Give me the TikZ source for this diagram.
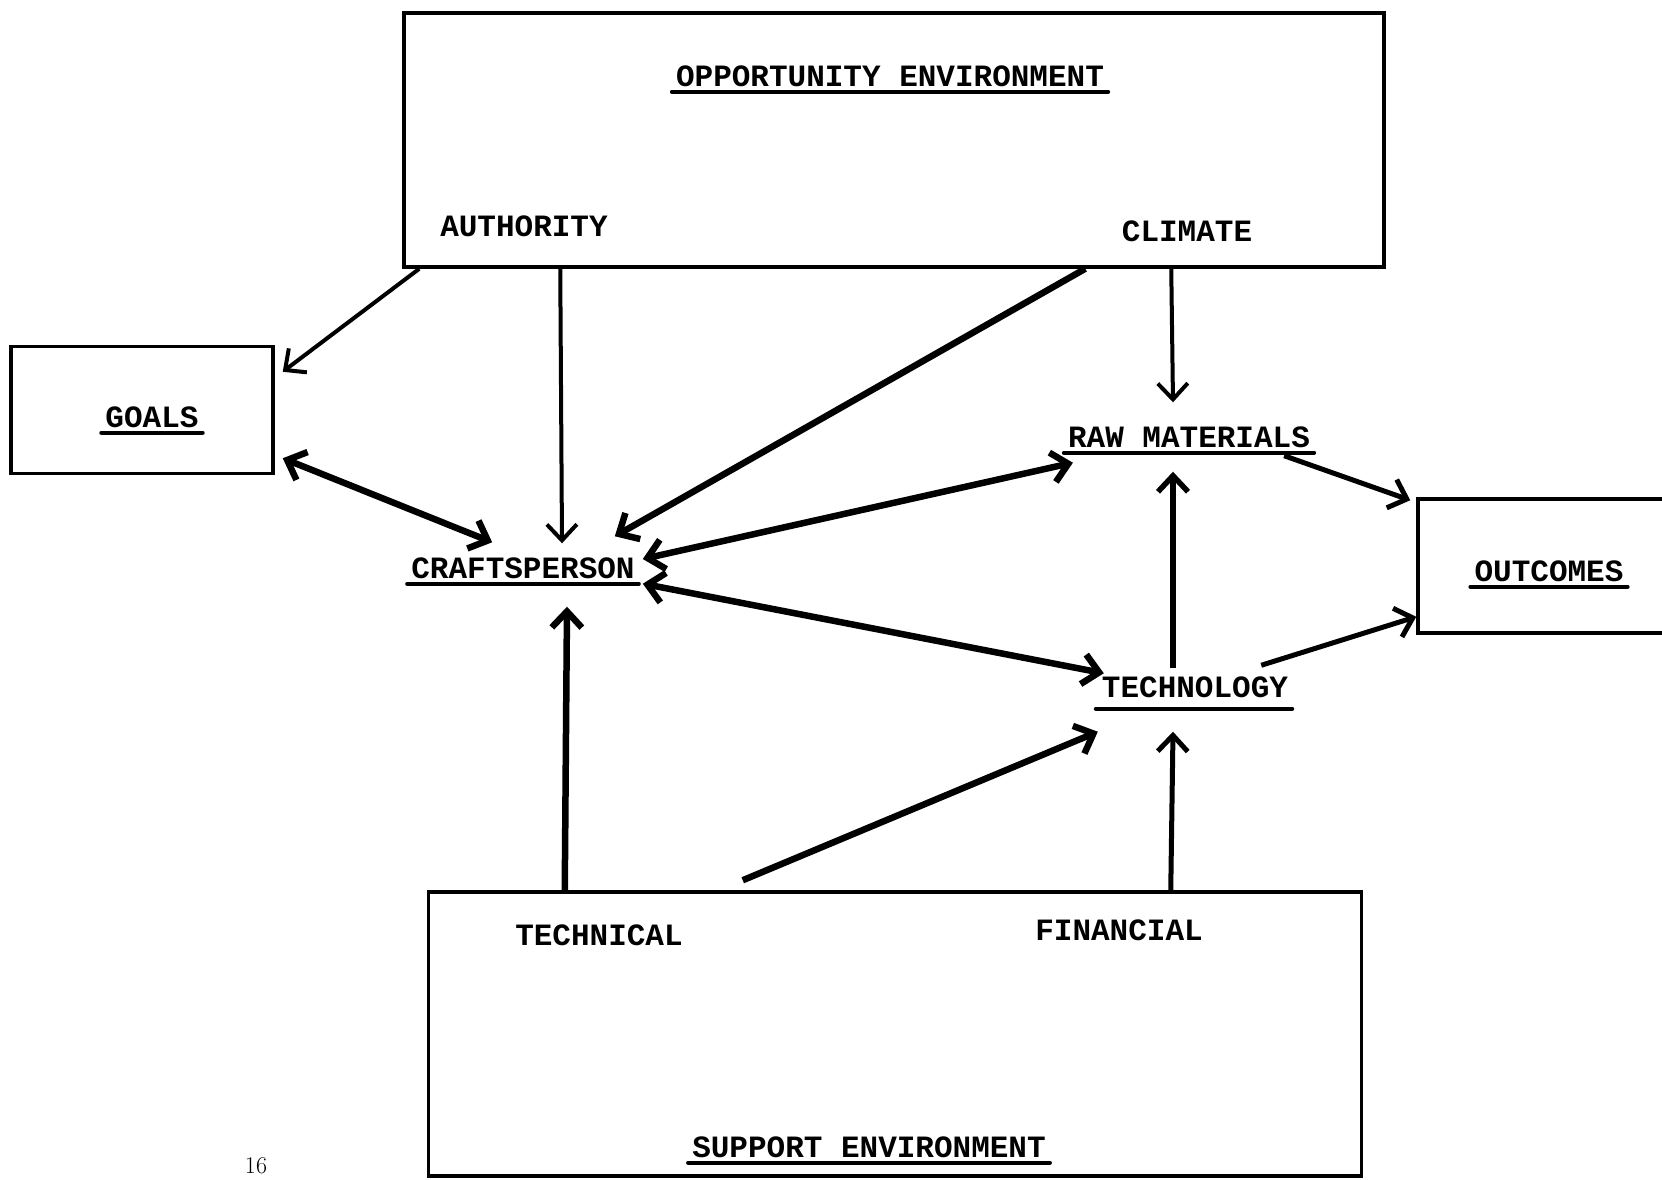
\documentclass[tikz,border=0pt]{standalone}
\usepackage{fontspec}
\setmonofont{Liberation Mono}
\usetikzlibrary{arrows.meta}

\begin{document}
\begin{tikzpicture}[x = 1pt, y = -1pt,
  >= {Straight Barb[length = 16pt, width = 30pt]},
  box/.style = {draw = black, line width = 3.5pt, inner sep = 0pt},
  lbl/.style = {inner sep = 0pt, font = \fontsize{31}{36}\selectfont\ttfamily\bfseries},
  uline/.style = {line width = 4pt, line cap = round},
  flow/.style = {draw, line width = 4pt},
  heavyflow/.style = {draw, line width = 6.5pt}]

\useasboundingbox (0, 0) rectangle (1662, 1180);

\node [box, minimum width = 980pt, minimum height = 254pt] (opp) at (894, 140) {};
\node [box, minimum width = 262pt, minimum height = 127pt] (goals) at (142, 410) {};
\node [box, minimum width = 270pt, minimum height = 134pt] (out) at (1553, 566) {};
\node [box, minimum width = 933pt, minimum height = 284pt] (sup) at (895, 1034) {};

\node [lbl] (opptitle) at (890, 76) {OPPORTUNITY ENVIRONMENT};
\node [lbl] (auth) at (524, 226) {AUTHORITY};
\node [lbl] (climate) at (1187, 231) {CLIMATE};
\node [lbl] (goalslbl) at (152, 417) {GOALS};
\node [lbl] (crafts) at (523, 568) {CRAFTSPERSON};
\node [lbl] (raw) at (1189, 437) {RAW MATERIALS};
\node [lbl] (tech) at (1195, 687) {TECHNOLOGY};
\node [lbl] (outlbl) at (1549, 571) {OUTCOMES};
\node [lbl] (technical) at (599, 935) {TECHNICAL};
\node [lbl] (financial) at (1119, 930) {FINANCIAL};
\node [lbl] (supenv) at (869, 1147) {SUPPORT ENVIRONMENT};
\node [inner sep = 0pt, font = \fontsize{24}{26}\selectfont] (pageno) at (256, 1166) {16};

\foreach \n in {opptitle, goalslbl, crafts, raw, outlbl, supenv}
  \path [draw, uline] ([shift = {(-4, 5)}]\n.south west) -- ([shift = {(4, 5)}]\n.south east);
\path [draw, uline] ([shift = {(-6, 11)}]tech.south west) -- ([shift = {(4, 11)}]tech.south east);

% from the opportunity environment
\path [flow, ->] ([shift = {(17, 0)}]opp.south west) -- ([shift = {(8, 27)}]goals.north east);
\path [flow, ->] ([shift = {(158, 0)}]opp.south west) -- ([shift = {(39, -14)}]crafts.north);
\path [heavyflow, ->] ([shift = {(683, 0)}]opp.south west) -- ([shift = {(-20, -21)}]crafts.north east);
\path [flow, ->] ([shift = {(769, 0)}]opp.south west) -- ([shift = {(-16, -24)}]raw.north);

% around the craftsperson
\path [heavyflow, <->] ([shift = {(8, -17)}]goals.south east) -- ([shift = {(81, -15)}]crafts.north west);
\path [heavyflow, <->] ([shift = {(8, -9)}]crafts.east) -- ([shift = {(5, 15)}]raw.south west);
\path [heavyflow, <->] ([shift = {(8, 5)}]crafts.south east) -- ([shift = {(2, -3)}]tech.north west);

% from the support environment
\path [heavyflow, ->] ([shift = {(138, 0)}]sup.north west) -- ([shift = {(44, 28)}]crafts.south);
\path [heavyflow, ->] ([shift = {(316, -10)}]sup.north west) -- ([shift = {(-4, 34)}]tech.south west);
\path [flow, line width = 5pt, ->] ([shift = {(744, 0)}]sup.north west) -- ([shift = {(-22, 34)}]tech.south);

% towards the outcomes
\path [heavyflow, line width = 5.5pt, ->] ([shift = {(-22, -8)}]tech.north) -- ([shift = {(-16, 24)}]raw.south);
\path [flow, line width = 5pt, ->] ([shift = {(-26, 8)}]raw.south east) -- ([shift = {(-6, 3)}]out.north west);
\path [flow, line width = 5pt, ->] ([shift = {(-27, -11)}]tech.north east) -- ([shift = {(0, -18)}]out.south west);
\end{tikzpicture}
\end{document}
